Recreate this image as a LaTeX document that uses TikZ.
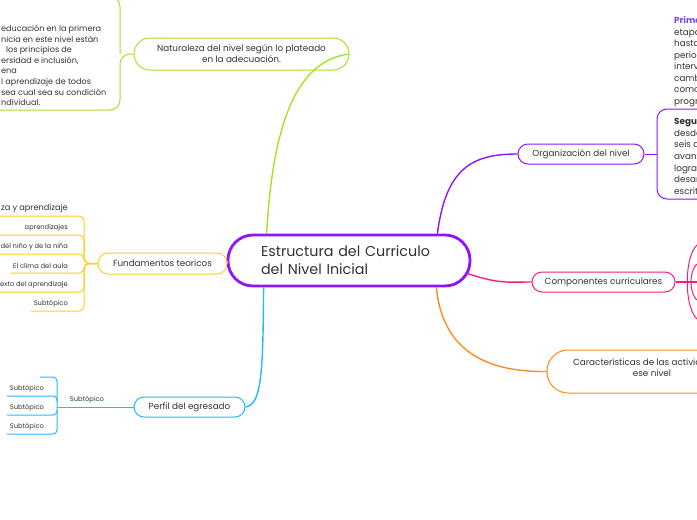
\documentclass[tikz,border=0pt]{standalone}
\usepackage{fontspec}
\setmainfont{Poppins}
\definecolor{pur}{HTML}{9013FE}
\definecolor{grn}{HTML}{A5E22B}
\definecolor{yel}{HTML}{FFD11A}
\definecolor{blu}{HTML}{22BBFF}
\definecolor{pnk}{HTML}{F2207A}
\definecolor{org}{HTML}{FF8B1E}
\definecolor{primc}{HTML}{7A45F5}
\definecolor{txt}{HTML}{333333}
\begin{document}
\begin{tikzpicture}[x=1pt,y=-1pt,
  topic/.style={draw, line width=1pt, inner sep=0pt, align=center, text=txt,
    font=\fontsize{8.8}{11}\selectfont},
  subt/.style={inner sep=0pt, text=txt, font=\fontsize{6.7}{8}\selectfont},
  para/.style={inner sep=0pt, text=txt, align=left, font=\fontsize{8.1}{10.6}\selectfont},
  conn/.style={line width=1.4pt},
  brk/.style={line width=1pt, rounded corners=5pt}]
\useasboundingbox (0,0) rectangle (697,520);
\fill[white] (0,0) rectangle (697,520);

% main topics
\node[topic, draw=grn, minimum width=215pt, minimum height=32pt, rounded corners=16pt] (nat) at (241.5,54) {Naturaleza del nivel según lo plateado\\en la adecuación.};
\node[topic, draw=yel, minimum width=129pt, minimum height=21pt, rounded corners=10pt] (fund) at (162.5,263.5) {Fundamentos teoricos};
\node[topic, draw=blu, minimum width=111pt, minimum height=20pt, rounded corners=10pt] (perf) at (189.5,407) {Perfil del egresado};
\node[topic, draw=pur, minimum width=126pt, minimum height=20pt, rounded corners=10pt] (orgn) at (581,154) {Organización del nivel};
\node[topic, draw=pnk, minimum width=143pt, minimum height=20pt, rounded corners=10pt] (comp) at (603.5,282) {Componentes curriculares};
\node[topic, draw=org, minimum width=210pt, minimum height=43pt, rounded corners=21pt] (car) at (652,371.5) {\phantom{x}};
\node[text=txt, inner sep=0pt, anchor=west, font=\fontsize{8.8}{11}\selectfont] (car1) at (573,362) {Características de las activid};
\node[text=txt, inner sep=0pt, font=\fontsize{8.8}{11}\selectfont] (car2) at (652,373) {ese nivel};

% central topic
\node[draw=pur, line width=2.8pt, rounded corners=25pt, minimum width=242pt, minimum height=51pt,
  text width=176pt, align=left, inner sep=0pt, fill=white, text=txt,
  font=\fontsize{14.3}{18}\selectfont] (c) at (349,260.5) {Estructura del Curriculo\\del Nivel Inicial};

% connectors from the centre
\draw[conn, grn] (c.north west) ++(40,0) .. controls (273,120) and (298,60) .. (nat.east);
\draw[conn, yel] (c.west) -- (fund.east);
\draw[conn, blu] (c.south west) ++(37,0) .. controls (263,370) and (262,405) .. (perf.east);
\draw[conn, pur] (c.north east) ++(-34,0) .. controls (446,168) and (472,154) .. (orgn.west);
\draw[conn, pnk] (c.east) ++(-4,13) .. controls (500,284) and (505,282) .. (comp.west);
\draw[conn, org] (c.south east) ++(-35,0) .. controls (443,360) and (500,372) .. (car.west);

% Naturaleza child
\draw[brk, grn, rounded corners=10pt] (nat.west) -- (120,54) |- (0,110);
\draw[brk, grn, rounded corners=12pt] (120,54) -- (120,-5) -- (100,-5);
\node[para, anchor=north west] (nt) at (1,25) {educación en la primera\\nicia en este nivel están\\\hspace*{5pt}los principios de\\ersidad e inclusión,\\ena\\l aprendizaje de todos\\sea cual sea su condición\\ndividual.};

% Fundamentos children
\draw[brk, yel] (fund.west) -- (84,263.5) |- (0,216);
\draw[brk, yel] (fund.west) -- (84,263.5) |- (0,235);
\draw[brk, yel] (fund.west) -- (84,263.5) |- (0,254);
\draw[brk, yel] (fund.west) -- (84,263.5) |- (10,273);
\draw[brk, yel] (fund.west) -- (84,263.5) |- (0,292);
\draw[brk, yel] (fund.west) -- (84,263.5) |- (31,311);
\node[subt, anchor=east, font=\fontsize{8.2}{9}\selectfont] (f1) at (68,208.5) {za y aprendizaje};
\node[subt, anchor=east] (f2) at (68,228) {aprendizajes};
\node[subt, anchor=east] (f3) at (68,247) {del niño y de la niña};
\node[subt, anchor=east] (f4) at (68,266) {El clima del aula};
\node[subt, anchor=east] (f5) at (68,285) {exto del aprendizaje};
\node[subt, anchor=east] (f6) at (68,304) {Subtópico};

% Perfil children
\draw[brk, blu] (perf.west) -- (57,407);
\node[subt] (p0) at (87,399.5) {Subtópico};
\draw[brk, blu, rounded corners=4pt] (40,377) -- (57,377) -- (57,434) -- (7,434);
\draw[brk, blu, rounded corners=4pt] (7,396) -- (57,396) -- (57,402);
\draw[brk, blu, rounded corners=4pt] (7,415) -- (57,415) -- (57,410);
\node[subt] (p1) at (27,389) {Subtópico};
\node[subt] (p2) at (27,408) {Subtópico};
\node[subt] (p3) at (27,427) {Subtópico};

% Organizacion children
\draw[brk, pur] (orgn.east) -- (657,154);
\draw[brk, pur, rounded corners=10pt] (705,109) -- (657,109) -- (657,199) -- (705,199);
\node[para, anchor=north west, font=\fontsize{8.8}{11.5}\selectfont] (o1) at (674,16.5) {\textbf{\color{primc}Prime}\\etapa\\hasta\\perio\\interv\\camb\\como\\progr};
\node[para, anchor=north west, font=\fontsize{8.8}{11.7}\selectfont] (o2) at (674,118) {\textbf{Segu}\\desde\\seis a\\avanz\\logra\\desar\\escrit};

% Componentes children
\draw[line width=1.6pt, pnk] (comp.east) -- (700,282);
\draw[line width=1pt, pnk] (700,243) .. controls (683,250) and (683,314) .. (700,321);
\draw[line width=1pt, pnk] (700,262) .. controls (688,267) and (688,297) .. (700,302);
\end{tikzpicture}
\end{document}
